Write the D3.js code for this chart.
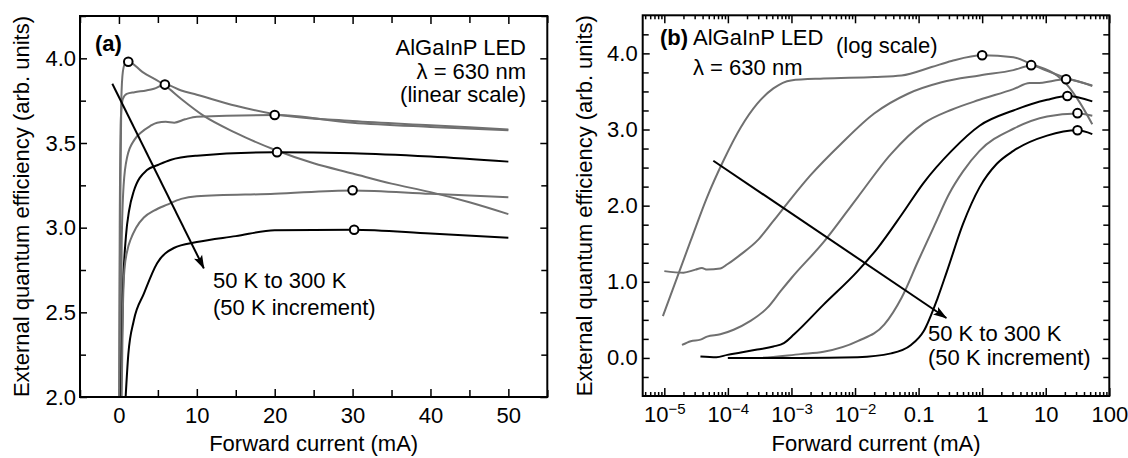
<!DOCTYPE html>
<meta charset="utf-8">
<style>
body { margin: 0; background: #fff; }
svg { display: block; font-family: "Liberation Sans", Arial, sans-serif; }
.tick text { font-size: 22px; fill: #000; }
.tick line { stroke: #000; stroke-width: 1.5px; }
.frame { fill: none; stroke: #000; stroke-width: 2px; }
.curve { fill: none; stroke-width: 2px; stroke-linejoin: round; }
.peak { fill: #fff; stroke: #000; stroke-width: 2px; }
.note { font-size: 22px; }
.title { font-size: 22px; text-anchor: middle; }
.arrow { stroke: #000; stroke-width: 2px; }
</style>
<svg width="1128" height="458"></svg>
<script src="https://d3js.org/d3.v7.min.js"></script>
<script>
// temperatures, top curve to bottom curve
var temps = [50, 100, 150, 200, 250, 300];

// (a) linear scale, [forward current mA, EQE]
var lin50 = [[0.05,2.0],[0.15,3.0],[0.3,3.75],[0.5,3.92],[0.8,3.97],[1.2,3.98],[3,3.92],[5.9,3.84],[8,3.76],[10.9,3.66],[15,3.56],[20,3.46],[25,3.38],[30,3.32],[35,3.26],[40,3.21],[45,3.15],[50,3.08]];
var lin100 = [[0.02,2.0],[0.1,3.0],[0.25,3.65],[0.5,3.76],[1,3.79],[2,3.8],[3.5,3.81],[4.5,3.82],[5.9,3.845],[8,3.81],[10,3.785],[15,3.72],[20,3.67],[30,3.63],[40,3.605],[50,3.58]];
var lin150 = [[0.2,2.0],[0.35,2.9],[0.6,3.25],[1.07,3.42],[2,3.52],[2.8,3.56],[4,3.6],[4.9,3.62],[6,3.625],[7.1,3.62],[8.5,3.64],[10,3.655],[20,3.665],[30,3.62],[40,3.595],[50,3.575]];
var lin200 = [[0.25,2.0],[0.5,2.6],[0.9,2.95],[1.3,3.1],[1.9,3.215],[3.6,3.34],[5,3.37],[6.6,3.4],[10,3.425],[20,3.445],[30,3.44],[40,3.42],[50,3.39]];
var lin250 = [[0.35,2.0],[0.5,2.5],[0.7,2.75],[1.1,2.87],[1.5,2.93],[2.2,3.0],[3.2,3.06],[4.5,3.1],[6.2,3.136],[8,3.17],[10,3.185],[20,3.2],[30,3.22],[40,3.2],[50,3.18]];
var lin300 = [[0.86,2.0],[1.2,2.25],[1.9,2.45],[3.2,2.61],[4.9,2.79],[7.05,2.88],[10,2.915],[15,2.95],[20,2.985],[30,2.988],[40,2.965],[50,2.94]];
var linPeaks = [[1.2,3.98],[5.9,3.845],[20,3.665],[20.3,3.446],[30,3.221],[30.2,2.988]];

// (b) log scale, [forward current mA, EQE]
var log50 = [[9.5e-6,0.55],[2.6e-5,1.54],[4.7e-5,2.11],[8.5e-5,2.59],[1.6e-4,3.03],[2.9e-4,3.34],[5.2e-4,3.54],[9.8e-4,3.645],[3.2e-3,3.67],[0.02,3.69],[0.054,3.71],[0.16,3.82],[0.33,3.9],[1.0,3.975],[3.1,3.95],[5.9,3.86],[15,3.71],[21,3.6],[34,3.36],[54,3.07]];
var log100 = [[1e-5,1.14],[2e-5,1.12],[3.1e-5,1.16],[3.9e-5,1.18],[4.7e-5,1.16],[7.6e-5,1.175],[9.8e-5,1.23],[1.6e-4,1.36],[2.9e-4,1.54],[5.2e-4,1.8],[9.8e-4,2.09],[2e-3,2.4],[6e-3,2.81],[0.02,3.21],[0.068,3.47],[0.23,3.62],[0.91,3.71],[3.1,3.78],[5.9,3.84],[10.5,3.77],[19,3.69],[54,3.58]];
var log150 = [[1.9e-5,0.17],[2.6e-5,0.22],[3.7e-5,0.24],[4.7e-5,0.28],[7.6e-5,0.31],[1.23e-4,0.37],[2.2e-4,0.48],[4.2e-4,0.66],[6.8e-4,0.88],[1e-3,1.05],[3.2e-3,1.52],[0.011,2.11],[0.037,2.68],[0.12,3.08],[0.33,3.26],[0.91,3.39],[3.1,3.53],[5.6,3.61],[7.1,3.61],[21,3.66],[54,3.57]];
var log200 = [[3.7e-5,0.02],[6.6e-5,0.01],[9.8e-5,0.04],[1.6e-4,0.07],[2.9e-4,0.11],[5.2e-4,0.15],[7.6e-4,0.195],[1.1e-3,0.31],[3.2e-3,0.7],[0.011,1.14],[0.023,1.45],[0.054,1.88],[0.12,2.3],[0.33,2.72],[0.91,3.05],[3.1,3.25],[10.5,3.39],[21.9,3.44],[54,3.37]];
var log250 = [[1e-4,0.0],[2.9e-4,0.0],[1.4e-3,0.05],[3.2e-3,0.08],[0.011,0.22],[0.029,0.44],[0.054,0.79],[0.098,1.27],[0.18,1.75],[0.3,2.15],[0.5,2.45],[0.91,2.72],[3.1,3.01],[10.5,3.17],[31.6,3.21],[54,3.18]];
var log300 = [[1e-4,0.0],[1.4e-3,0.0],[0.011,0.01],[0.037,0.06],[0.076,0.17],[0.12,0.35],[0.2,0.79],[0.28,1.14],[0.5,1.76],[0.91,2.24],[1.7,2.55],[3.1,2.72],[10.5,2.92],[31.6,2.99],[54,2.94]];
var logPeaks = [[1.0,3.975],[5.9,3.845],[20.9,3.66],[21.9,3.44],[31.6,3.215],[31.6,2.99]];

// ticks
var linXTicks = [0, 10, 20, 30, 40, 50];
var linYTicks = [2.0, 2.5, 3.0, 3.5, 4.0];
var logXTicks = [1e-5, 1e-4, 1e-3, 1e-2, 0.1, 1, 10, 100];
var logYTicks = [0, 1, 2, 3, 4];

// arrows (data coords)
var arrowA = [[-0.85, 3.85], [10.9, 2.76]];
var arrowB = [[5.9e-5, 2.59], [0.273, 0.525]];

var svg = d3.select("svg");
var grey = "#707070";
var lineColor = function(i) { return (i == 3 || i == 5) ? "#000" : grey; };

svg.append("defs").append("marker")
    .attr("id", "head")
    .attr("markerUnits", "userSpaceOnUse")
    .attr("markerWidth", 14).attr("markerHeight", 10)
    .attr("refX", 13).attr("refY", 5)
    .attr("orient", "auto")
  .append("path")
    .attr("d", "M0,0.5 L14,5 L0,9.5 L3,5 Z")
    .attr("fill", "#000");

function drawPanel(id, x, y, series, peaks, opts) {
  var x0 = x.range()[0], x1 = x.range()[1], y0 = y.range()[1], y1 = y.range()[0];
  var g = svg.append("g");

  g.append("clipPath").attr("id", "clip" + id)
    .append("rect").attr("x", x0).attr("y", y0).attr("width", x1 - x0).attr("height", y1 - y0);

  // minor ticks
  var noLab = function() { return ""; };
  g.append("g").attr("transform", "translate(0," + y1 + ")")
    .call(d3.axisBottom(x).tickValues(opts.xMinor).tickSize(-opts.minorLen).tickFormat(noLab));
  g.append("g").attr("transform", "translate(0," + y0 + ")")
    .call(d3.axisTop(x).tickValues(opts.xMinor).tickSize(-opts.minorLen).tickFormat(noLab));
  g.append("g").attr("transform", "translate(" + x0 + ",0)")
    .call(d3.axisLeft(y).tickValues(opts.yMinor).tickSize(-6).tickFormat(noLab));
  g.append("g").attr("transform", "translate(" + x1 + ",0)")
    .call(d3.axisRight(y).tickValues(opts.yMinor).tickSize(-6).tickFormat(noLab));

  // major ticks
  var bx = g.append("g").attr("transform", "translate(0," + y1 + ")")
    .call(d3.axisBottom(x).tickValues(opts.xTicks).tickSize(-8).tickPadding(10).tickFormat(opts.xFormat));
  g.append("g").attr("transform", "translate(0," + y0 + ")")
    .call(d3.axisTop(x).tickValues(opts.xTicks).tickSize(-8).tickFormat(noLab));
  g.append("g").attr("transform", "translate(" + x0 + ",0)")
    .call(d3.axisLeft(y).tickValues(opts.yTicks).tickSize(-7).tickPadding(opts.yPad).tickFormat(d3.format(".1f")));
  g.append("g").attr("transform", "translate(" + x1 + ",0)")
    .call(d3.axisRight(y).tickValues(opts.yTicks).tickSize(-7).tickFormat(noLab));
  g.selectAll(".domain").remove();
  if (opts.powLabels) {
    bx.selectAll(".tick text").each(function(d) {
      if (d >= 0.05) return;
      var t = d3.select(this).text(null);
      t.append("tspan").text("10");
      t.append("tspan").attr("dy", "-0.5em").style("font-size", "15px")
        .text("\u2212" + Math.round(-Math.log10(d)));
    });
  }

  var line = d3.line()
    .x(function(d) { return x(d[0]); })
    .y(function(d) { return y(d[1]); })
    .curve(d3.curveMonotoneX);

  g.append("g").attr("clip-path", "url(#clip" + id + ")")
    .selectAll("path").data(series).enter().append("path")
      .attr("class", "curve")
      .attr("stroke", function(d, i) { return lineColor(i); })
      .attr("d", line);

  g.append("g").selectAll("circle").data(peaks).enter().append("circle")
    .attr("class", "peak")
    .attr("r", 4.3)
    .attr("cx", function(d) { return x(d[0]); })
    .attr("cy", function(d) { return y(d[1]); });

  g.append("line").attr("class", "arrow")
    .attr("x1", x(opts.arrow[0][0])).attr("y1", y(opts.arrow[0][1]))
    .attr("x2", x(opts.arrow[1][0])).attr("y2", y(opts.arrow[1][1]))
    .attr("marker-end", "url(#head)");

  g.append("rect").attr("class", "frame")
    .attr("x", x0).attr("y", y0).attr("width", x1 - x0).attr("height", y1 - y0);

  g.append("text").attr("class", "title")
    .attr("x", (x0 + x1) / 2).attr("y", 451)
    .text("Forward current (mA)");
  g.append("text").attr("class", "title")
    .attr("transform", "translate(" + opts.yTitleX + "," + (y0 + y1) / 2 + ") rotate(-90)")
    .text("External quantum efficiency (arb. units)");
  return g;
}

// (a)
var xA = d3.scaleLinear().domain([-5, 55]).range([80, 547.3]);
var yA = d3.scaleLinear().domain([2.0, 4.25]).range([397, 16]);
var gA = drawPanel("A", xA, yA, [lin50, lin100, lin150, lin200, lin250, lin300], linPeaks, {
  xTicks: linXTicks, xMinor: d3.range(-5, 56, 10),
  yTicks: linYTicks, yMinor: d3.range(2.25, 4.26, 0.5),
  minorLen: 7, yPad: 4, yTitleX: 29,
  xFormat: d3.format("d"), arrow: arrowA
});

// (b)
var xB = d3.scaleLog().domain([Math.pow(10, -5.34), 100]).range([642.7, 1109.3]);
var yB = d3.scaleLinear().domain([-0.5, 4.5]).range([396, 15.3]);
var logMinor = [];
for (var e = -6; e < 2; e++) for (var m = 2; m < 10; m++) {
  var v = m * Math.pow(10, e);
  if (v > xB.domain()[0] && v < 100) logMinor.push(v);
}
var gB = drawPanel("B", xB, yB, [log50, log100, log150, log200, log250, log300], logPeaks, {
  xTicks: logXTicks, xMinor: logMinor,
  yTicks: logYTicks, yMinor: d3.range(-0.25, 4.5, 0.25).filter(function(v) { return Math.abs(v - Math.round(v)) > 0.01; }),
  minorLen: 4, yPad: 5, yTitleX: 592, powLabels: true,
  xFormat: function(d) { return d >= 1 ? d3.format("d")(d) : d >= 0.05 ? "0.1" : ""; },
  arrow: arrowB
});

// notes
function note(g, x, y, anchor, parts) {
  var t = g.append("text").attr("class", "note").attr("x", x).attr("y", y).attr("text-anchor", anchor);
  parts.forEach(function(p) {
    t.append("tspan").attr("font-weight", p[1] ? "bold" : null).text(p[0]);
  });
}
note(gA, 95, 51, "start", [["(a)", true]]);
note(gA, 526, 55, "end", [["AlGaInP LED"]]);
note(gA, 526, 79, "end", [["\u03bb = 630 nm"]]);
note(gA, 526, 102, "end", [["(linear scale)"]]);
note(gA, 213, 288, "start", [["50 K to 300 K"]]);
note(gA, 213, 315, "start", [["(50 K increment)"]]);

note(gB, 660, 45, "start", [["(b)", true], [" AlGaInP LED"]]);
note(gB, 693, 75, "start", [["\u03bb = 630 nm"]]);
note(gB, 836, 53, "start", [["(log scale)"]]);
note(gB, 928, 341, "start", [["50 K to 300 K"]]);
note(gB, 928, 365, "start", [["(50 K increment)"]]);
</script>
